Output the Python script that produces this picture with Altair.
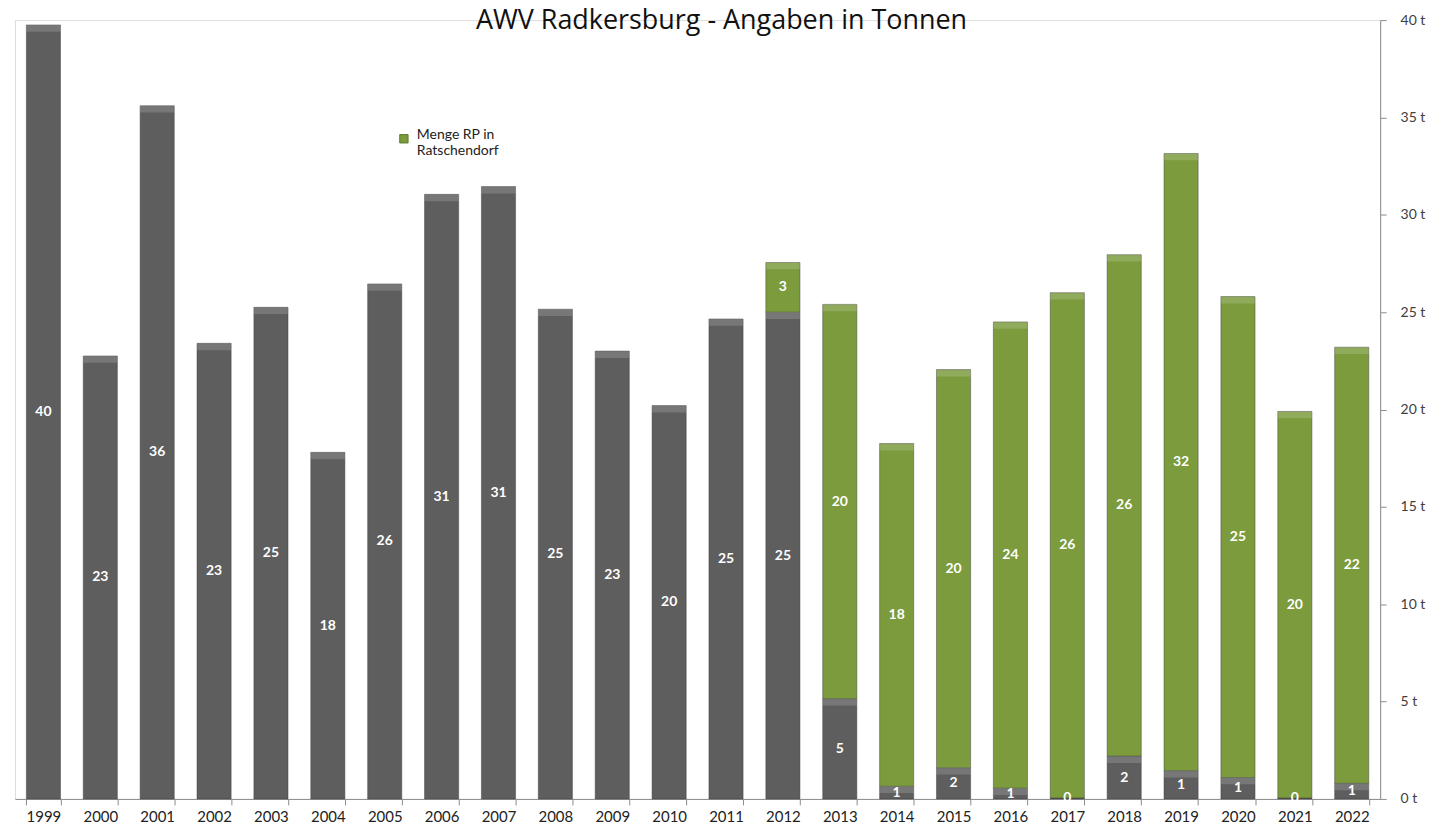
import altair as alt
import pandas as pd

years = [str(y) for y in range(1999, 2023)]
gray_values = [39.75, 22.75, 35.6, 23.4, 25.25, 17.8, 26.45, 31.05, 31.45, 25.15,
               23.0, 20.2, 24.65, 25.0, 5.15, 0.65, 1.6, 0.55, 0.05, 2.2,
               1.45, 1.1, 0.05, 0.8]
green_values = [0, 0, 0, 0, 0, 0, 0, 0, 0, 0,
                0, 0, 0, 2.55, 20.25, 17.6, 20.45, 23.95, 25.95, 25.75,
                31.7, 24.7, 19.85, 22.4]
series_gray = "Menge RP AWV Radkersburg"
series_green = "Menge RP in Ratschendorf"
y_ticks = [0, 5, 10, 15, 20, 25, 30, 35, 40]

rows = []
for y, g, r in zip(years, gray_values, green_values):
    rows.append({"year": y, "series": series_gray, "value": g, "base": 0.0, "ord": 0})
    if r > 0:
        rows.append({"year": y, "series": series_green, "value": r, "base": g, "ord": 1})
df = pd.DataFrame(rows)

FONT = "Lato"
GRAY = "#5e5e5e"
GREEN = "#7b9b3d"

base = alt.Chart(df).transform_calculate(
    hi="datum.base + datum.value",
    mid="datum.base + datum.value / 2",
    bev="max(datum.base, datum.base + datum.value - 0.35)",
)

x_enc = alt.X("year:N", sort=years, title=None,
              scale=alt.Scale(paddingInner=0.4, paddingOuter=0.2),
              axis=alt.Axis(labelAngle=0, tickBand="extent", labelFont=FONT,
                            labelFontSize=15, labelColor="#222222", domainColor="#8c8c8c",
                            tickColor="#8c8c8c", tickSize=6, labelPadding=5))
y_scale = alt.Scale(domain=[0, 40], nice=False, zero=True)

bars = base.mark_bar(stroke="#3f3f3f", strokeWidth=0.8, strokeOpacity=0.6).encode(
    x=x_enc,
    y=alt.Y("hi:Q", scale=y_scale, title=None,
            axis=alt.Axis(orient="right", values=y_ticks, labelExpr="datum.value + ' t'",
                          grid=False, labelFont=FONT, labelFontSize=14, labelColor="#404040",
                          domainColor="#8c8c8c", tickColor="#8c8c8c", tickSize=6,
                          labelPadding=14)),
    y2="base:Q",
    color=alt.Color("series:N",
                    scale=alt.Scale(domain=[series_gray, series_green], range=[GRAY, GREEN]),
                    legend=alt.Legend(values=[series_green], title=None, orient="none",
                                      legendX=383, legendY=112, padding=0,
                                      symbolType="square", symbolSize=70,
                                      symbolStrokeColor="#5a7a25", symbolStrokeWidth=1,
                                      labelFont=FONT, labelFontSize=14, labelColor="#222222",
                                      labelBaseline="alphabetic", labelOffset=6,
                                      labelExpr="datum.label == 'Menge RP in Ratschendorf' ? ['Menge RP in', 'Ratschendorf'] : datum.label")),
)

bevel = base.transform_filter("datum.value > 0.3").mark_bar(
    color="#ffffff", opacity=0.16).encode(
    x=alt.X("year:N", sort=years),
    y=alt.Y("hi:Q", scale=y_scale),
    y2="bev:Q",
)

labels = base.mark_text(color="white", font=FONT, fontWeight="bold", fontSize=14,
                        baseline="middle").encode(
    x=alt.X("year:N", sort=years),
    y=alt.Y("mid:Q", scale=y_scale),
    text=alt.Text("value:Q", format=".0f"),
)

chart = alt.layer(bars, bevel, labels).properties(
    width=1369, height=781,
    title=alt.TitleParams("AWV Radkersburg - Angaben in Tonnen", anchor="middle",
                          frame="group", font="Open Sans", fontSize=27, fontWeight="normal",
                          color="#111111", baseline="alphabetic", offset=0, dy=43, dx=24),
    padding={"left": 7, "top": 11, "right": 60, "bottom": 24},
    autosize=alt.AutoSizeParams(type="none"),
).configure_view(strokeWidth=0).configure(background="white")

chart.save("out.html", embed_options={"renderer": "svg", "actions": False})
